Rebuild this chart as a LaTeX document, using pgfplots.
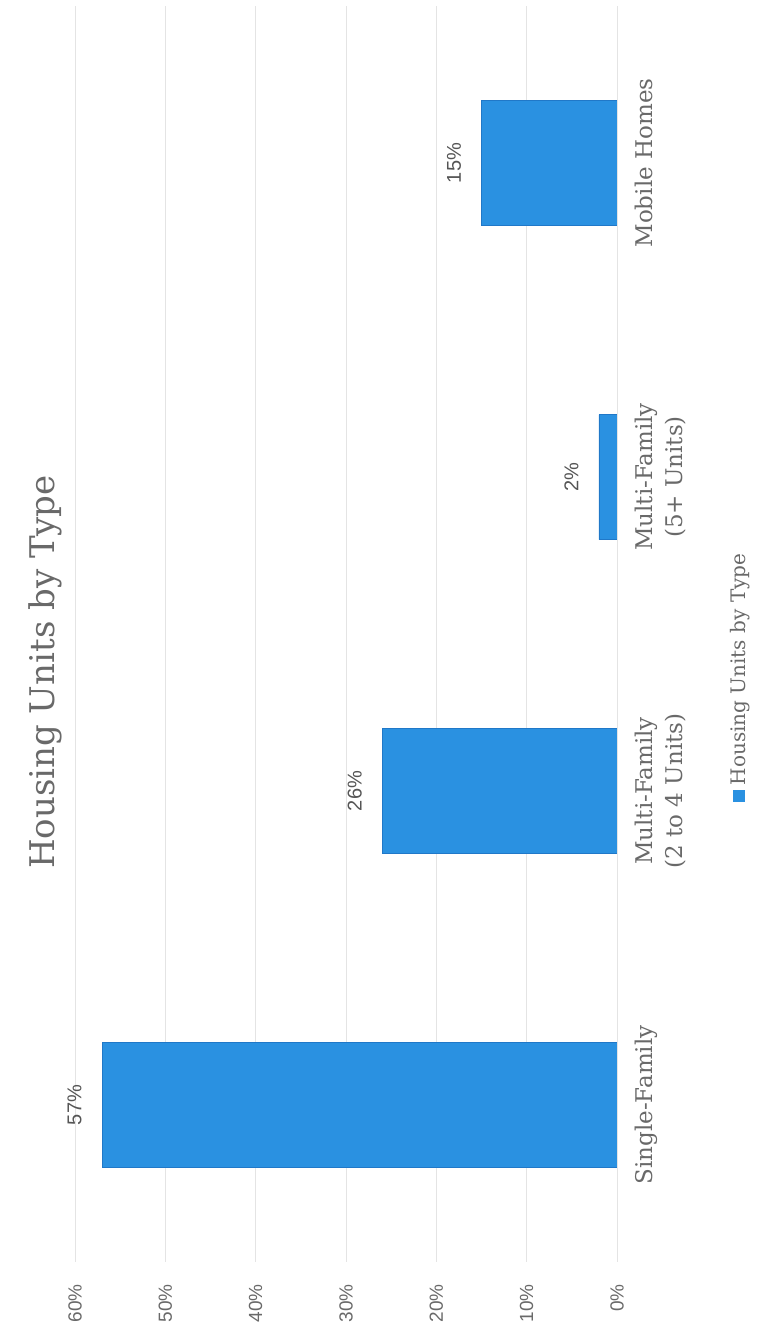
\documentclass[border=0pt]{standalone}
\usepackage{fontspec}
\setmainfont{DejaVu Serif}
\newfontfamily\tickfont{Liberation Sans}
\usepackage{pgfplots}
\pgfplotsset{compat=1.18}
\definecolor{barblue}{RGB}{42,145,225}
\definecolor{bardark}{RGB}{32,120,200}
\definecolor{txt}{RGB}{105,105,105}
\definecolor{lbl}{RGB}{85,85,85}
\definecolor{gridc}{RGB}{228,228,228}
\begin{document}
\begin{tikzpicture}
\begin{axis}[
  at={(0,0)}, anchor=south west,
  scale only axis, width=542pt, height=1256pt,
  xbar, bar width=125pt,
  x dir=reverse,
  xmin=0, xmax=60, ymin=-0.5, ymax=3.5,
  xtick={0,10,20,30,40,50,60},
  xticklabel={\pgfmathprintnumber{\tick}\%},
  /pgf/number format/assume math mode=true,
  xticklabel style={rotate=90, anchor=east, inner sep=0pt, font=\tickfont\fontsize{19}{22}\selectfont, text=txt},
  xticklabel shift=22pt,
  ytick={0,1,2,3},
  yticklabel pos=right,
  yticklabels={Single-Family, {Multi-Family\\(2 to 4 Units)}, {Multi-Family\\(5+ Units)}, Mobile Homes},
  yticklabel style={rotate=90, anchor=north, align=center, inner sep=0pt, font=\fontsize{23}{30}\selectfont, text=txt},
  yticklabel shift=18pt,
  xmajorgrids, grid style={draw=gridc, line width=0.9pt},
  axis line style={draw=none},
  major tick length=0pt,
  tick style={draw=none},
  point meta=x,
  nodes near coords={\pgfmathprintnumber{\pgfplotspointmeta}\%},
  nodes near coords style={rotate=90, anchor=south, inner xsep=0pt, inner ysep=20pt, font=\tickfont\fontsize{20}{24}\selectfont, text=lbl},
]
\addplot[fill=barblue, draw=bardark, line width=0.8pt] coordinates {(57,0) (26,1) (2,2) (15,3)};
\end{axis}
\node[rotate=90, text=txt, font=\fontsize{34}{40}\selectfont] at (-30pt,590pt) {Housing Units by Type};
\node[rotate=90, text=txt, font=\fontsize{20}{24}\selectfont] at (665pt,584pt) {\textcolor{barblue}{\rule{12pt}{12pt}}\hspace{5pt}Housing Units by Type};
\path[use as bounding box] (-75pt,-74pt) rectangle (694pt,1262pt);
\end{tikzpicture}
\end{document}
